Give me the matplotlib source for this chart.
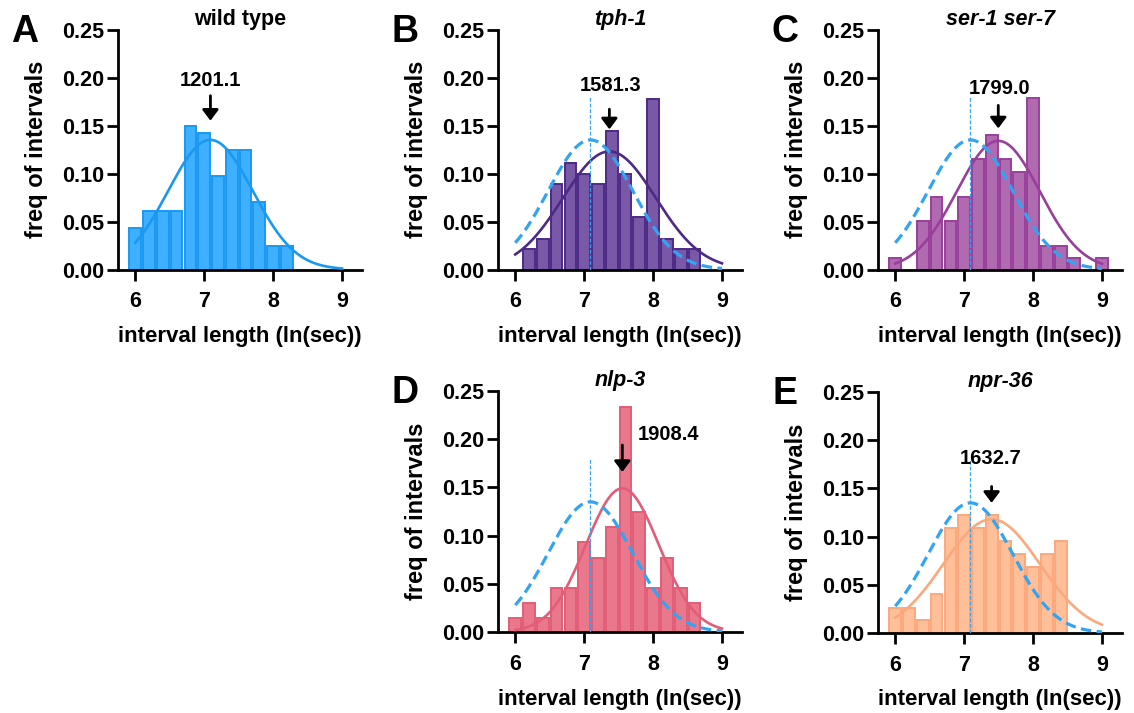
import numpy as np
import matplotlib
matplotlib.use("Agg")
import matplotlib.pyplot as plt

plt.rcParams["font.family"] = ["Liberation Sans", "DejaVu Sans"]
plt.rcParams["font.weight"] = "bold"

# bin centres (ln sec), bin width 0.2
bins_a = [6.0, 6.2, 6.4, 6.6, 6.8, 7.0, 7.2, 7.4, 7.6, 7.8, 8.0, 8.2]
freq_a = [0.043, 0.061, 0.061, 0.061, 0.150, 0.142, 0.097, 0.124, 0.124, 0.070, 0.025, 0.025]

bins_b = [6.2, 6.4, 6.6, 6.8, 7.0, 7.2, 7.4, 7.6, 7.8, 8.0, 8.2, 8.4, 8.6]
freq_b = [0.021, 0.032, 0.089, 0.111, 0.099, 0.089, 0.144, 0.099, 0.055, 0.178, 0.032, 0.021, 0.021]

bins_c = [6.0, 6.4, 6.6, 6.8, 7.0, 7.2, 7.4, 7.6, 7.8, 8.0, 8.2, 8.4, 8.6, 9.0]
freq_c = [0.012, 0.051, 0.076, 0.051, 0.076, 0.115, 0.140, 0.115, 0.102, 0.179, 0.024, 0.024, 0.012, 0.012]

bins_d = [6.0, 6.2, 6.4, 6.6, 6.8, 7.0, 7.2, 7.4, 7.6, 7.8, 8.0, 8.2, 8.4, 8.6]
freq_d = [0.015, 0.030, 0.015, 0.046, 0.046, 0.093, 0.077, 0.109, 0.233, 0.124, 0.046, 0.077, 0.046, 0.030]

bins_e = [6.0, 6.2, 6.4, 6.6, 6.8, 7.0, 7.2, 7.4, 7.6, 7.8, 8.0, 8.2, 8.4]
freq_e = [0.026, 0.026, 0.013, 0.040, 0.109, 0.122, 0.109, 0.122, 0.095, 0.082, 0.068, 0.082, 0.095]

# gaussian fits: geometric mean interval (sec), sd (ln sec), peak height
gmean = {"A": 1201.1, "B": 1581.3, "C": 1799.0, "D": 1908.4, "E": 1632.7}
fit_sd = {"A": 0.614, "B": 0.673, "C": 0.603, "D": 0.53, "E": 0.70}
fit_peak = {"A": 0.135, "B": 0.123, "C": 0.134, "D": 0.149, "E": 0.118}

titles = {"A": "wild type", "B": "tph-1", "C": "ser-1 ser-7", "D": "nlp-3", "E": "npr-36"}

fill = {"A": "#3fb0ff", "B": "#7a58a8", "C": "#b06ab0", "D": "#e9788c", "E": "#ffbf98"}
edge = {"A": "#1a98f2", "B": "#4c2a86", "C": "#983f9c", "D": "#e25d77", "E": "#fba97c"}
wt_dash = "#33a4f2"

# label (x, y) and arrow (top, tip) in data units
label_pos = {"A": (7.09, 0.197), "B": (7.38, 0.192), "C": (7.51, 0.189),
             "D": (8.22, 0.205), "E": (7.38, 0.181)}
arrow_y = {"A": (0.181, 0.155), "B": (0.167, 0.146), "C": (0.171, 0.147),
           "D": (0.194, 0.166), "E": (0.152, 0.135)}

data = {"A": (bins_a, freq_a), "B": (bins_b, freq_b), "C": (bins_c, freq_c),
        "D": (bins_d, freq_d), "E": (bins_e, freq_e)}

W, H = 1134, 713
# axes boxes in pixels: left, right, top, bottom
boxes = {"A": (118, 362, 29.5, 269.5), "B": (498, 742, 29.5, 269.5),
         "C": (878, 1122, 29.5, 269.5), "D": (498, 742, 391, 632),
         "E": (878, 1122, 392, 633)}

fig = plt.figure(figsize=(W / 100, H / 100), dpi=100)


def gauss(x, key):
    mu = np.log(gmean[key])
    return fit_peak[key] * np.exp(-(x - mu) ** 2 / (2 * fit_sd[key] ** 2))


xs = np.linspace(6, 9, 300)
mu_wt = np.log(gmean["A"])

for key, (l, r, t, b) in boxes.items():
    ax = fig.add_axes([l / W, 1 - b / H, (r - l) / W, (b - t) / H])
    aw, ah = r - l, b - t
    bins, freq = data[key]
    ax.bar(bins, freq, width=0.17, color=fill[key], edgecolor=edge[key],
           linewidth=1.4, zorder=2)
    ax.plot(xs, gauss(xs, key), color=edge[key], lw=1.9, zorder=3)
    if key != "A":
        # wild-type fit for comparison
        ax.plot(xs, gauss(xs, "A"), color=wt_dash, lw=2.3, ls=(0, (3.3, 1.7)), zorder=4)
        ax.plot([mu_wt, mu_wt], [0, 0.18], color=wt_dash, lw=0.9, ls=(0, (3, 1.5)), zorder=4)

    mu = np.log(gmean[key])
    top, tip = arrow_y[key]
    ax.annotate("", xy=(mu, tip), xytext=(mu, top),
                arrowprops=dict(arrowstyle="-|>,head_length=0.36,head_width=0.27",
                                mutation_scale=18, color="black", lw=2.0,
                                shrinkA=0, shrinkB=0), zorder=5)
    lx, ly = label_pos[key]
    ax.text(lx, ly, f"{gmean[key]:.1f}", ha="center", va="center",
            fontsize=14.5, fontweight="bold", zorder=6)

    ax.set_xlim(5.75, 9.29)
    ax.set_ylim(0, 0.25)
    ax.set_xticks([6, 7, 8, 9])
    ax.set_yticks([0, 0.05, 0.10, 0.15, 0.20, 0.25])
    ax.set_yticklabels(["0.00", "0.05", "0.10", "0.15", "0.20", "0.25"])
    for s in ["top", "right"]:
        ax.spines[s].set_visible(False)
    for s in ["left", "bottom"]:
        ax.spines[s].set_linewidth(2.0)
    ax.tick_params(axis="both", width=2.0, length=8, labelsize=15.5)
    ax.tick_params(axis="x", pad=7.5)
    ax.tick_params(axis="y", pad=2)
    for lab in ax.get_xticklabels() + ax.get_yticklabels():
        lab.set_fontweight("bold")

    ax.set_xlabel("interval length (ln(sec))", fontsize=16, fontweight="bold", va="center")
    ax.xaxis.set_label_coords(0.5, -67 / ah)
    ax.set_ylabel("freq of intervals", fontsize=17, fontweight="bold", va="center")
    ax.yaxis.set_label_coords(-81 / aw, 0.5)
    ax.set_title(titles[key], fontsize=15.5, fontweight="bold",
                 fontstyle="normal" if key == "A" else "italic",
                 y=1 + 10 / ah, pad=0, va="center")

    fig.text((l - 93) / W, 1 - (t + 2) / H, key, fontsize=27, fontweight="bold",
             ha="center", va="center")

fig.savefig("out.png", dpi=100)
